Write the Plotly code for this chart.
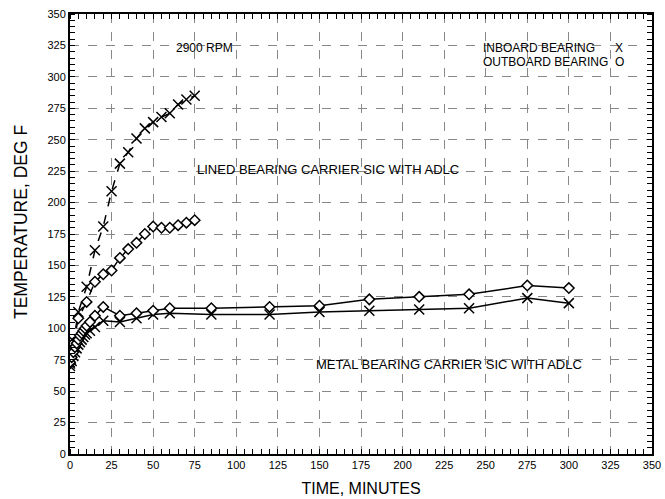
import plotly.graph_objects as go

# Lined bearing carrier (dashed)
lined_in_t = [0, 2, 5, 10, 15, 20, 25, 30, 35, 40, 45, 50, 55, 60, 65, 70, 75]
lined_in_T = [72, 90, 113, 133, 162, 181, 209, 231, 240, 251, 259, 264, 268, 271, 278, 282, 285]
lined_out_t = [0, 2, 5, 10, 15, 20, 25, 30, 35, 40, 45, 50, 55, 60, 65, 70, 75]
lined_out_T = [72, 88, 108, 121, 137, 143, 146, 156, 163, 168, 175, 181, 180, 180, 182, 184, 186]

# Metal bearing carrier (solid)
metal_in_t = [0, 1, 2, 3, 4, 5, 6, 7, 8, 9, 10, 12, 15, 20, 30, 40, 50, 60, 85, 120, 150, 180, 210, 240, 275, 300]
metal_in_T = [70, 74, 78, 81, 84, 87, 89, 91, 93, 95, 96, 98, 101, 106, 105, 108, 111, 112, 111, 111, 113, 114, 115, 116, 124, 120]
metal_out_t = [0, 1, 2, 3, 4, 5, 6, 7, 8, 9, 10, 12, 15, 20, 30, 40, 50, 60, 85, 120, 150, 180, 210, 240, 275, 300]
metal_out_T = [73, 77, 81, 85, 88, 91, 94, 96, 98, 100, 102, 105, 110, 117, 110, 112, 114, 116, 116, 117, 118, 123, 125, 127, 134, 132]

x_ticks = list(range(0, 351, 25))
y_ticks = list(range(0, 351, 25))

FONT = "Liberation Sans, Arial, sans-serif"

fig = go.Figure()

def add(t, T, dash, symbol, size, fill):
    fig.add_trace(go.Scatter(
        x=t, y=T, mode="lines+markers",
        line=dict(color="black", width=1.5, dash=dash),
        marker=dict(symbol=symbol, size=size, color=fill,
                    line=dict(color="black", width=1.5)),
        showlegend=False))

add(lined_in_t, lined_in_T, "dash", "x-thin", 10, "black")
add(lined_out_t, lined_out_T, "dash", "diamond", 8, "white")
add(metal_in_t, metal_in_T, "solid", "x-thin", 10, "black")
add(metal_out_t, metal_out_T, "solid", "diamond", 8, "white")

axis_common = dict(
    showline=True, linecolor="black", linewidth=2, mirror="ticks",
    showgrid=True, gridcolor="#888888", griddash="dash", gridwidth=1,
    zeroline=False, ticks="", automargin=False, ticklabeloverflow="allow",
    tickfont=dict(family=FONT, size=11, color="black"),
    minor=dict(dtick=5, ticks="inside", ticklen=5, tickcolor="black", showgrid=False),
)

fig.update_xaxes(range=[0, 350], tickvals=x_ticks,
                 title=dict(text="TIME, MINUTES", font=dict(family=FONT, size=16, color="black"), standoff=13),
                 **axis_common)
fig.update_yaxes(range=[0, 350], tickvals=y_ticks, **axis_common)

fig.add_annotation(xref="paper", yref="paper", x=0, y=0.5, xshift=-49, yshift=12,
                   text="TEMPERATURE, DEG F", textangle=-90, showarrow=False,
                   xanchor="center", yanchor="middle",
                   font=dict(family=FONT, size=17.5, color="black"))

ann_font = dict(family=FONT, size=12, color="black")
big_font = dict(family=FONT, size=13, color="black")
fig.add_annotation(x=81, y=323, text="2900 RPM", showarrow=False, font=ann_font, xanchor="center")
fig.add_annotation(x=75, y=226, text="LINED BEARING CARRIER SIC WITH ADLC", showarrow=False,
                   font=big_font, xanchor="left")
fig.add_annotation(x=147, y=71, text="METAL BEARING CARRIER SIC WITH ADLC", showarrow=False,
                   font=big_font, xanchor="left")
fig.add_annotation(x=247, y=323, text="INBOARD BEARING&nbsp;&nbsp;&nbsp;&nbsp;&nbsp;&nbsp;X", showarrow=False,
                   font=ann_font, xanchor="left")
fig.add_annotation(x=247, y=312, text="OUTBOARD BEARING&nbsp;&nbsp;O", showarrow=False,
                   font=ann_font, xanchor="left")

fig.update_layout(
    width=665, height=499,
    margin=dict(l=70, r=13, t=14, b=45),
    paper_bgcolor="white", plot_bgcolor="white",
    font=dict(family=FONT, color="black"),
)

fig.write_html("out.html",
               config={"displayModeBar": False},
               post_script="document.body.style.margin='0';document.body.style.overflow='hidden';")
